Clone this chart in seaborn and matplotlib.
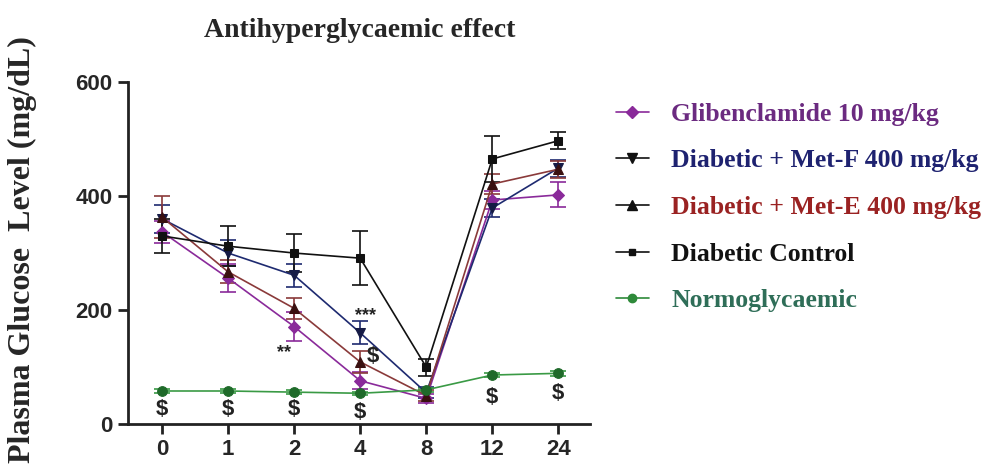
import numpy as np
import matplotlib
matplotlib.use("Agg")
import matplotlib.pyplot as plt
import seaborn as sns
from matplotlib.lines import Line2D

# ---- data ----
time_labels = ["0", "1", "2", "4", "8", "12", "24"]

glib = [337, 256, 171, 76, 45, 393, 402]
glib_err = [20, 25, 25, 15, 8, 15, 22]

metf = [360, 300, 261, 160, 55, 379, 449]
metf_err = [25, 22, 20, 20, 10, 15, 15]

mete = [363, 267, 203, 109, 50, 421, 447]
mete_err = [37, 20, 18, 20, 10, 18, 15]

control = [330, 312, 300, 291, 100, 465, 497]
control_err = [30, 35, 33, 47, 15, 40, 15]

normo = [58, 58, 56, 54, 60, 86, 89]
normo_err = [3, 3, 3, 3, 3, 4, 4]

series_names = ["Glibenclamide 10 mg/kg", "Diabetic + Met-F 400 mg/kg",
                "Diabetic + Met-E 400 mg/kg", "Diabetic Control", "Normoglycaemic"]

# annotations: (text, x position index, y value)
annot_text = ["**", "***", "$", "$", "$", "$", "$", "$", "$"]
annot_x = [1.85, 3.08, 3.2, 0, 1, 2, 3, 5, 6]
annot_y = [125, 190, 118, 26, 26, 26, 20, 46, 54]

sns.set_style("ticks")
plt.rcParams["font.family"] = ["Liberation Sans", "DejaVu Sans"]

fig = plt.figure(figsize=(9.9, 4.66), dpi=100)
ax = fig.add_axes([0.129, 0.090, 0.467, 0.734])

x = np.arange(len(time_labels))

styles = [
    (glib, glib_err, "#8a2a9a", "D", "#8a2a9a", 6),
    (metf, metf_err, "#1e2a70", "v", "#151a45", 7),
    (mete, mete_err, "#8a3a3a", "^", "#3a1010", 7),
    (control, control_err, "#111111", "s", "#111111", 6),
    (normo, normo_err, "#3a9a45", "o", "#1f6a2a", 7),
]

for (vals, errs, col, mk, mcol, ms), name in zip(styles, series_names):
    sns.lineplot(x=x, y=vals, ax=ax, color=col, linewidth=1.2, marker=mk,
                 markersize=ms, markerfacecolor=mcol, markeredgecolor=mcol,
                 legend=False, zorder=3)
    ax.errorbar(x, vals, yerr=errs, fmt="none", ecolor=col, elinewidth=1.2,
                capsize=6, capthick=1.2, zorder=2)

for t, xx, yy in zip(annot_text, annot_x, annot_y):
    fs = 13 if "*" in t else 16
    ax.text(xx, yy, t, ha="center", va="center", fontsize=fs,
            fontweight="bold", color="#222222")

ax.set_xlim(-0.52, 6.48)
ax.set_ylim(0, 600)
ax.set_yticks([0, 200, 400, 600])
ax.set_xticks(x)
ax.set_xticklabels(time_labels)
for lab in ax.get_xticklabels() + ax.get_yticklabels():
    lab.set_fontsize(16)
    lab.set_fontweight("bold")
ax.tick_params(axis="both", length=7, width=2, color="#222222", pad=4)
sns.despine(ax=ax)
for s in ["left", "bottom"]:
    ax.spines[s].set_linewidth(2)
    ax.spines[s].set_color("#222222")

fig.text(22 / 990, 1 - 250 / 466, "Plasma Glucose  Level (mg/dL)", rotation=90,
         ha="center", va="center", fontsize=23, fontweight="bold",
         family=["Liberation Serif", "DejaVu Serif"])
fig.text(0.363, 0.935, "Antihyperglycaemic effect", ha="center", va="center",
         fontsize=20, fontweight="bold", family=["Liberation Serif", "DejaVu Serif"])

handles = [
    Line2D([], [], color="#8a2a9a", marker="D", markersize=6, linewidth=1.2),
    Line2D([], [], color="#111111", marker="v", markersize=7, linewidth=1.2),
    Line2D([], [], color="#111111", marker="^", markersize=7, linewidth=1.2),
    Line2D([], [], color="#111111", marker="s", markersize=4, linewidth=1.2),
    Line2D([], [], color="#2e8a3a", marker="o", markersize=6, linewidth=1.2),
]
label_colors = ["#6b2a80", "#1e2270", "#9a2222", "#111111", "#2f6e58"]
leg = fig.legend(handles, series_names, loc="center left",
                 bbox_to_anchor=(0.622, 0.555), frameon=False, borderpad=0,
                 borderaxespad=0,
                 prop={"family": "Liberation Serif", "weight": "bold", "size": 18.5},
                 labelspacing=0.92, handlelength=1.3, handletextpad=0.85)
for txt, c in zip(leg.get_texts(), label_colors):
    txt.set_color(c)

fig.savefig("out.png", dpi=100)
